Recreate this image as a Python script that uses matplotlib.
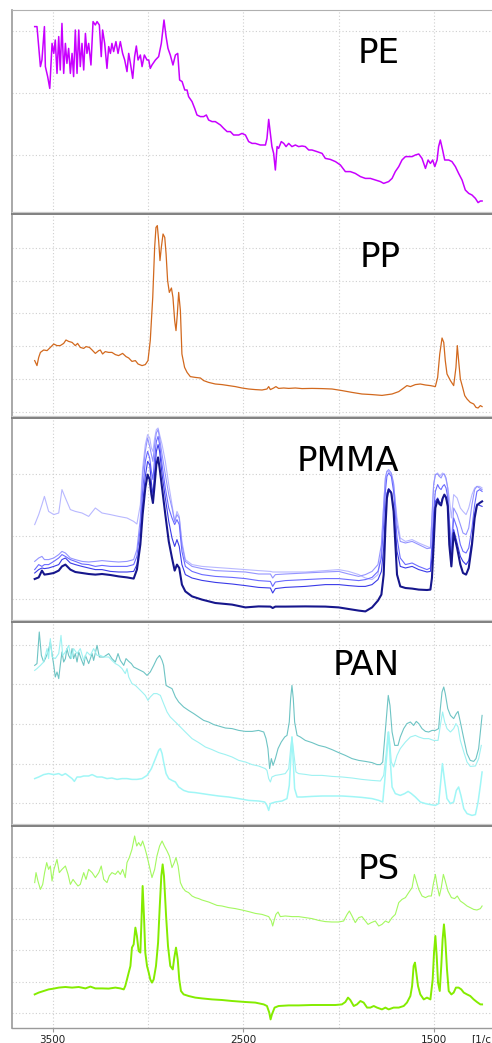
import matplotlib
matplotlib.use("Agg")
import matplotlib.pyplot as plt
from matplotlib.lines import Line2D

# ---------------- data (wavenumber [1/cm], absorbance a.u.) ----------------
pe_spec = [(3594,91.7),(3582,91.7),(3564,71.7),(3556,75),(3543,91.7),(3538,71.7),(3526,66.7),(3515,60.8),(3503,83.3),(3494,78.3),(3486,85),(3477,68.3),(3468,86.7),(3460,70),(3451,93.3),(3442,68.3),(3433,83.3),(3425,73.3),(3416,80.8),(3407,68.3),(3398,78.3),(3390,66.7),(3381,90),(3372,68.3),(3363,90),(3355,71.7),(3346,83.3),(3337,70),(3328,88.3),(3320,78.3),(3311,83.3),(3299,72.5),(3288,94.2),(3276,92.5),(3267,94.2),(3255,92.5),(3245,76.7),(3238,90),(3227,83.3),(3215,70.8),(3206,81.7),(3197,78.3),(3189,83.3),(3180,79.2),(3168,84.2),(3157,78.3),(3145,84.2),(3133,78.3),(3122,75),(3110,69.2),(3101,78.3),(3092,73.3),(3080,65.8),(3070,76.7),(3061,82),(3052,75),(3040,77.5),(3031,71.7),(3019,77.5),(3005,75),(2996,75),(2988,70.8),(2979,72.5),(2961,75),(2944,76.7),(2930,83.3),(2916,95),(2905,86.7),(2895,80.8),(2883,77.5),(2869,72.5),(2856,77.5),(2844,78.3),(2834,65),(2821,64.2),(2807,60),(2795,60),(2787,56.7),(2769,54.2),(2755,50.8),(2743,47.5),(2725,46.7),(2708,46.7),(2694,47.5),(2682,45),(2664,44.2),(2647,44.2),(2620,42.5),(2603,40.8),(2585,39.2),(2568,39.2),(2551,37.5),(2524,37.5),(2507,38.3),(2489,37.5),(2472,34.2),(2454,33.3),(2437,33.3),(2411,32.5),(2384,32.5),(2376,35.8),(2367,45.3),(2358,38.3),(2350,31.7),(2341,28.3),(2332,20),(2323,31.7),(2315,30.8),(2301,34.2),(2288,33.3),(2276,31.7),(2262,33.3),(2245,31.7),(2227,32.5),(2210,31.7),(2192,32),(2175,31.7),(2157,30),(2140,30),(2114,29.2),(2087,28.3),(2070,25.8),(2044,25.3),(2017,24.2),(1991,22.5),(1965,19.2),(1939,19.2),(1913,18.3),(1886,16.7),(1860,15.8),(1834,15.8),(1808,15),(1781,14.2),(1764,13.3),(1738,14.2),(1720,15.8),(1703,19.2),(1685,21.7),(1668,25),(1650,26.7),(1633,26.7),(1615,26.7),(1598,27.5),(1580,28),(1563,25.8),(1545,20.8),(1531,25),(1519,23.3),(1507,25),(1496,21.7),(1484,25),(1476,31.7),(1467,35),(1455,30),(1444,25),(1423,25),(1406,24.2),(1388,21.7),(1371,18.3),(1353,15),(1336,10),(1318,8.3),(1301,7.5),(1283,5.8),(1269,3.7),(1257,4.5),(1248,4.5)]

pp_spec = [(3594,26.7),(3582,24.2),(3573,28.3),(3564,30.8),(3547,32),(3529,31.7),(3512,33.3),(3494,35),(3477,34.2),(3460,34.2),(3442,35.3),(3430,37),(3416,36.3),(3398,35.8),(3381,34.2),(3369,35.3),(3355,33.3),(3337,32.8),(3325,33.7),(3307,33.3),(3293,32),(3276,30.3),(3258,31.7),(3250,32),(3238,30),(3224,31.2),(3206,30.8),(3189,30.8),(3171,29.7),(3154,29.2),(3133,30.3),(3115,28.7),(3101,28),(3084,26.3),(3066,26.7),(3052,25),(3031,24.2),(3014,24.7),(3000,26.7),(2988,36.7),(2975,58.3),(2965,83.3),(2958,93.3),(2951,94.2),(2944,86.7),(2937,76.7),(2930,83.3),(2921,90),(2912,88.3),(2905,80),(2897,66.7),(2888,60.8),(2877,63),(2869,58.3),(2860,46.7),(2853,41.7),(2846,50),(2839,60.8),(2830,51.7),(2822,30),(2808,23.3),(2795,20.8),(2778,18.7),(2752,18.3),(2725,18),(2708,16.7),(2682,15.8),(2647,15),(2612,14.7),(2577,14.2),(2542,13.7),(2507,13),(2472,12.5),(2437,12.2),(2402,12),(2376,12.5),(2367,13.7),(2358,12.2),(2341,13),(2329,13.7),(2315,12.8),(2288,13),(2262,12.8),(2227,13),(2192,12.7),(2140,12.8),(2087,12.7),(2035,12.5),(1982,11.7),(1930,10.8),(1878,10),(1825,9.7),(1773,9.3),(1720,10),(1685,11.2),(1659,13),(1642,14.2),(1624,13.7),(1598,14.7),(1572,15),(1545,14.5),(1519,14.2),(1493,13.7),(1481,18.3),(1470,30),(1458,38),(1449,35.8),(1441,26.7),(1432,20),(1414,16.7),(1397,14.2),(1385,23.3),(1378,34.2),(1371,26.7),(1362,17.5),(1350,13.3),(1339,9.2),(1327,7.5),(1310,5.8),(1292,5),(1280,3.3),(1269,3),(1257,4.2),(1248,3.7)]

pmma_wn = [3594,3573,3556,3543,3521,3494,3468,3451,3433,3407,
           3381,3346,3311,3276,3241,3197,3154,3110,3075,3058,
           3040,3028,3014,3002,2991,2982,2974,2965,2956,2947,
           2939,2926,2909,2891,2874,2860,2848,2836,2822,2804,
           2769,2717,2647,2559,2489,2420,2358,2346,2332,2280,
           2175,2070,2000,1948,1895,1860,1825,1794,1776,1764,
           1755,1747,1738,1724,1712,1694,1677,1650,1615,1580,
           1537,1519,1511,1502,1493,1481,1472,1463,1455,1446,
           1437,1428,1420,1409,1397,1379,1362,1348,1332,1318,
           1301,1287,1275,1261,1248]
pmma_1 = [19.5,20.3,23.7,21.7,22.0,22.5,23.7,25.8,26.7,24.2,
          23.0,22.5,22.0,21.7,22.0,21.5,20.8,20.3,19.7,24.2,
          36.7,51.7,65.0,71.7,69.2,61.7,57.5,66.7,76.7,80.3,
          75.0,65.0,51.7,38.3,30.0,23.7,26.7,25.0,16.7,13.3,
          10.8,9.2,7.5,6.7,5.3,5.8,5.7,5.0,5.7,5.7,
          5.8,5.7,5.3,4.5,3.7,3.3,5.3,8.7,11.7,21.7,
          45.0,60.0,64.2,62.5,53.3,21.7,15.8,15.0,14.7,14.2,
          14.0,14.2,20.0,36.7,55.0,59.2,57.0,56.3,59.7,61.7,
          60.3,55.8,36.7,25.8,42.5,35.0,26.7,22.5,21.7,25.0,
          36.7,50.0,56.3,57.5,58.3]
pmma_2 = [22.5,24.2,25.0,24.7,25.0,25.8,26.7,29.2,30.0,27.5,
          26.7,25.8,25.0,24.2,24.2,23.3,23.0,23.0,23.3,26.7,
          38.3,56.7,70.8,78.3,76.7,67.5,61.7,72.5,83.3,86.7,
          83.3,71.7,60.0,48.3,40.0,35.8,39.2,35.8,26.7,21.7,
          20.0,18.8,17.8,17.0,16.2,15.3,15.0,12.5,14.7,15.3,
          15.8,16.7,16.7,16.2,15.8,15.8,16.7,19.2,23.3,35.0,
          51.7,62.5,64.7,63.0,55.0,33.3,25.8,25.0,25.8,24.2,
          23.0,23.3,30.0,46.7,58.3,60.0,58.0,57.5,60.0,61.3,
          60.0,56.3,41.7,25.8,44.2,37.5,30.8,28.3,26.7,28.7,
          38.3,51.7,57.0,56.3,55.8]
pmma_3 = [24.2,26.7,25.8,26.7,26.7,28.3,30.0,31.7,30.8,29.2,
          28.3,27.0,26.7,25.8,26.3,25.8,25.8,25.8,26.7,30.8,
          45.0,63.3,78.3,83.3,80.0,73.3,69.2,80.0,88.3,90.8,
          86.7,76.7,65.0,55.0,50.0,46.7,49.2,46.7,33.3,25.8,
          23.3,21.7,20.8,20.3,19.7,18.7,18.3,15.8,18.0,18.7,
          19.2,19.7,19.7,19.2,18.7,19.2,20.3,23.3,30.0,46.7,
          63.3,70.8,72.5,70.8,63.3,40.0,30.0,26.7,27.5,25.8,
          24.2,25.0,36.7,53.3,63.3,66.7,65.0,64.2,65.8,66.7,
          65.0,60.0,46.7,31.7,50.0,45.0,36.7,33.3,32.5,35.0,
          45.0,56.7,63.3,64.2,63.3]
pmma_4 = [28.3,30.0,30.8,29.2,29.2,30.0,31.7,33.3,32.5,30.0,
          29.2,28.3,28.0,28.3,28.7,28.3,28.0,28.3,29.2,34.2,
          50.0,71.7,83.3,90.0,85.8,81.7,78.3,86.7,92.5,94.2,
          90.0,81.7,71.7,61.7,55.0,48.3,51.7,50.0,36.7,28.3,
          25.8,24.7,23.7,23.3,23.0,22.0,22.0,20.0,21.7,22.0,
          22.5,23.0,23.3,22.0,20.8,21.7,23.3,26.7,36.7,56.7,
          70.0,73.3,74.2,72.5,67.5,46.7,38.3,37.5,38.3,36.7,
          34.7,35.0,50.0,66.7,71.7,72.0,70.8,70.0,71.7,72.0,
          70.0,65.0,50.0,36.7,55.0,51.7,46.7,42.5,41.7,45.0,
          56.7,64.2,65.8,65.0,64.2]
pmma_5 = [46.7,51.7,56.7,60.8,53.3,51.7,52.5,64.2,60.0,54.2,
          53.3,52.5,50.8,55.0,52.5,51.7,50.8,50.0,48.3,47.0,
          56.7,75.0,86.7,91.7,90.0,85.0,83.3,90.0,94.2,95.0,
          91.7,86.7,78.3,66.7,56.7,48.3,53.3,50.8,38.3,29.2,
          26.7,25.8,25.3,24.7,24.2,23.7,23.3,23.0,23.0,23.0,
          23.0,23.7,24.2,23.3,21.7,20.0,19.2,21.7,33.3,56.7,
          70.0,73.3,73.3,71.7,66.7,50.0,40.0,38.3,39.2,37.5,
          35.8,35.0,50.0,66.7,71.7,72.5,70.8,71.7,72.5,71.7,
          69.2,65.0,60.0,50.0,61.7,60.0,55.0,53.3,51.7,55.0,
          61.7,65.0,65.8,65.8,65.0]

pan_a = [(3594,78.3),(3582,79.2),(3570,95),(3559,83.3),(3547,80),(3538,81.7),(3524,85),(3512,90),(3503,84.2),(3494,78.3),(3486,72.5),(3477,75),(3468,71.7),(3460,78.3),(3451,85),(3442,80),(3433,81.7),(3425,86.7),(3416,83.3),(3407,81.7),(3398,86.7),(3390,81.7),(3381,84.2),(3372,80),(3363,85),(3351,81.7),(3337,78.3),(3328,83.3),(3311,79.2),(3293,84.2),(3285,80.8),(3267,88.3),(3255,82.5),(3232,82.5),(3206,84.2),(3189,81.7),(3171,80),(3157,84.2),(3145,80.8),(3127,78.3),(3115,81.7),(3101,80.3),(3087,79.2),(3075,77.5),(3058,76.7),(3040,75.8),(3023,75),(3005,73.3),(2988,75),(2970,78.3),(2953,81.7),(2939,83.3),(2926,80.8),(2918,78.3),(2905,68.3),(2891,67.5),(2874,66.7),(2856,62.5),(2839,60),(2813,57.5),(2787,55.8),(2760,54.2),(2734,52.5),(2708,50.8),(2682,50),(2655,48.7),(2629,48),(2594,47),(2559,46.7),(2524,45.8),(2489,45.3),(2454,45.3),(2420,45.8),(2393,45),(2381,41.7),(2371,36.7),(2362,26.7),(2353,31.7),(2344,28.3),(2332,31.7),(2318,36.7),(2301,40),(2283,42.5),(2271,43.3),(2259,50),(2252,61.7),(2245,68.3),(2238,61.7),(2231,50),(2218,43.3),(2201,42.5),(2175,40.8),(2140,39.7),(2105,38.3),(2070,37.5),(2035,36.2),(2000,34.7),(1965,33.3),(1930,31.7),(1895,30.8),(1860,30.3),(1825,29.7),(1799,28.7),(1781,28.7),(1769,30),(1759,41.7),(1748,55),(1740,63.3),(1731,58.3),(1720,45),(1706,38.3),(1689,38.3),(1677,42.5),(1659,46.7),(1642,49.2),(1624,50),(1607,48.3),(1593,50.3),(1580,49.2),(1563,46.7),(1545,45.3),(1528,45),(1510,45.8),(1493,45.8),(1476,46.7),(1467,56.7),(1458,65),(1449,67.5),(1441,64.2),(1428,56.7),(1414,53.3),(1397,51.7),(1383,54.2),(1374,55.3),(1362,50),(1344,41.7),(1327,34.2),(1310,30.8),(1292,30.3),(1280,31.7),(1266,36.7),(1257,45),(1248,53.3)]

pan_b = [(3594,75.8),(3582,76.7),(3564,78.3),(3547,80),(3529,86.7),(3521,81.7),(3512,91.7),(3503,82.5),(3486,81.7),(3468,84.2),(3456,93.3),(3447,83.3),(3433,85),(3416,88.3),(3402,81.7),(3390,86.7),(3372,84.2),(3355,86.7),(3337,80.8),(3320,85),(3302,83.3),(3285,86.7),(3267,83.3),(3250,83.3),(3232,82.5),(3206,82.5),(3189,80.8),(3171,79.2),(3154,78.3),(3136,76.7),(3119,74.2),(3110,76.7),(3101,72.5),(3084,69.2),(3066,68.3),(3049,66.7),(3031,65),(3014,63.3),(3000,60.8),(2988,62.5),(2970,64.2),(2953,64.2),(2935,63.3),(2918,59.2),(2900,55),(2883,52.5),(2856,50),(2830,47.5),(2804,45),(2769,41.7),(2734,39.7),(2699,37.5),(2664,36.2),(2629,34.7),(2594,33.7),(2559,32.5),(2524,30.8),(2489,30),(2454,28.7),(2420,28),(2385,26.7),(2376,25.8),(2367,21.7),(2358,20),(2350,22.5),(2332,23.3),(2306,23.7),(2280,24.2),(2262,26.7),(2252,36.7),(2245,42.5),(2236,35),(2224,25),(2210,24.2),(2175,23.8),(2140,23.3),(2087,23.3),(2035,22.8),(1982,22.5),(1930,22),(1878,21.3),(1825,20.8),(1781,20.5),(1764,23.3),(1752,33.3),(1741,45),(1732,40),(1724,30),(1712,27.5),(1694,33.3),(1677,36.7),(1650,40),(1624,42.5),(1598,43.3),(1580,42.5),(1554,41.7),(1528,41.7),(1502,40.8),(1479,40.8),(1467,48.3),(1455,55),(1444,50),(1432,46.7),(1414,45),(1397,46.7),(1385,49.2),(1374,47.5),(1362,40.8),(1344,35),(1327,30),(1310,27.8),(1283,28),(1266,31.7),(1252,38.3)]

pan_c = [(3594,21.7),(3573,22.5),(3547,23.7),(3521,24.2),(3494,23.7),(3468,24.2),(3451,23.3),(3433,24.2),(3416,23),(3398,21.7),(3386,20.3),(3372,22.5),(3355,22.5),(3337,23),(3311,23),(3293,23.7),(3267,22.5),(3241,22.5),(3215,21.7),(3189,22),(3162,21.3),(3136,21.7),(3110,21.7),(3084,21.3),(3058,21.3),(3031,21.7),(3005,23.3),(2982,26.7),(2961,31.7),(2944,35.8),(2935,36.7),(2926,34.2),(2918,30),(2905,24.2),(2891,21.7),(2874,20.8),(2856,20),(2839,17.5),(2813,15.8),(2787,15),(2752,14.7),(2717,14.2),(2682,13.7),(2629,13),(2577,12.5),(2524,11.7),(2472,10.8),(2420,10.5),(2388,10),(2376,8.3),(2367,5.8),(2358,9.2),(2332,10),(2297,10.5),(2271,11.7),(2259,18.3),(2252,30),(2245,42.5),(2238,30),(2231,16.7),(2218,12.5),(2192,12.5),(2140,12.8),(2087,13),(2035,13),(1982,13),(1930,12.7),(1878,12.3),(1825,11.7),(1790,10.8),(1769,10),(1759,20),(1748,33.3),(1738,45),(1729,30),(1720,17.5),(1703,14.2),(1677,13.3),(1654,14.2),(1636,15.3),(1619,14.2),(1598,12.5),(1572,10),(1545,9.2),(1519,8.7),(1493,8.3),(1476,9.2),(1465,20),(1456,29.2),(1446,21.7),(1432,11.7),(1414,9.2),(1397,10),(1383,15.8),(1371,17.5),(1359,13.3),(1344,6.7),(1327,4.2),(1301,3.3),(1283,3.7),(1269,10),(1257,18.3),(1248,25)]

ps_upper = [(3594,71.7),(3587,76.7),(3577,72.5),(3564,68.3),(3552,70.8),(3542,76.7),(3531,81.7),(3521,78.3),(3512,80),(3503,72.5),(3493,78.3),(3477,83.3),(3465,76.7),(3451,78.3),(3433,80),(3419,75.8),(3407,70.8),(3393,73.3),(3381,71.7),(3367,70),(3355,70.8),(3337,76.7),(3325,73.3),(3311,78.3),(3293,76.7),(3276,74.2),(3258,76.7),(3245,80),(3232,73.3),(3215,71.7),(3203,75),(3189,76.7),(3171,75.8),(3157,77.5),(3145,75.8),(3133,78.3),(3119,74.2),(3110,81.7),(3098,84.2),(3084,88.3),(3070,95),(3059,90),(3049,91.7),(3038,90),(3028,92.5),(3017,89.2),(3005,85),(2993,80),(2979,74.2),(2965,78.3),(2953,85),(2939,90),(2926,92.5),(2914,90),(2900,87.5),(2888,85),(2874,79.2),(2862,81.7),(2853,84.2),(2842,80),(2830,71.7),(2818,69.2),(2804,67.5),(2787,66.7),(2769,65),(2752,64.2),(2734,63.7),(2717,63),(2699,62.5),(2682,62),(2664,61.3),(2638,60.3),(2612,60),(2577,59.2),(2542,58.7),(2507,58),(2472,57.2),(2437,56.3),(2402,55.8),(2367,54.7),(2353,52.5),(2346,50),(2337,53.3),(2329,55.8),(2318,57),(2306,54.7),(2280,55),(2245,54.7),(2210,54.7),(2175,54.2),(2140,53.7),(2105,52.8),(2070,52.2),(2035,52),(2000,52),(1974,52.5),(1956,55.8),(1944,57.5),(1930,55),(1913,51.7),(1895,54.2),(1878,54.7),(1860,52.5),(1846,50.8),(1829,51.7),(1808,52.5),(1790,50),(1773,50.8),(1755,52.5),(1738,51.7),(1720,54.2),(1703,55.8),(1685,61.7),(1668,63.3),(1650,64.2),(1633,66.7),(1615,69.2),(1603,75.8),(1593,72.5),(1580,68.3),(1563,65),(1545,64.2),(1528,65),(1514,65),(1504,70.8),(1493,75.8),(1483,70),(1472,65),(1462,69.2),(1451,75.8),(1441,72.5),(1427,67.5),(1409,64.2),(1392,63.7),(1378,65),(1362,62.5),(1344,61.3),(1327,60),(1310,59.2),(1292,58.3),(1275,58),(1257,58.7),(1248,60)]

ps_lower = [(3594,15.8),(3573,16.7),(3547,17.5),(3521,18.3),(3494,18.7),(3468,19.2),(3433,19.5),(3398,19.2),(3363,19.5),(3328,18.8),(3302,19.7),(3276,18.8),(3241,18.8),(3206,18.7),(3171,19.2),(3145,18.8),(3127,18.3),(3119,20),(3110,23.3),(3101,26.7),(3092,30),(3084,39.2),(3075,40.8),(3066,49.2),(3058,45),(3049,37.5),(3040,36.7),(3035,50),(3028,70),(3021,55),(3014,36.7),(3005,30),(2996,26.7),(2988,23.3),(2979,21.7),(2970,23.3),(2958,30),(2947,41.7),(2939,58.3),(2930,75),(2923,80.8),(2916,75),(2905,55),(2895,40),(2883,30),(2870,28.3),(2862,34.2),(2853,39.2),(2844,33.3),(2836,23.3),(2827,17.5),(2813,15.8),(2787,15),(2752,14.2),(2717,13.8),(2664,13.3),(2612,13),(2559,12.5),(2489,12),(2437,11.7),(2393,10.8),(2376,10),(2364,6.7),(2357,3.3),(2350,5.8),(2336,9.2),(2315,10),(2262,10.3),(2210,10.3),(2140,10.5),(2070,10.5),(2017,10.5),(1983,10.8),(1965,12),(1951,14.2),(1939,13),(1921,10),(1904,10.8),(1886,12.5),(1869,11.7),(1851,9.2),(1834,9.2),(1816,10),(1799,9.2),(1773,8.3),(1755,9.2),(1738,8.3),(1712,9.2),(1685,9.2),(1659,10),(1642,11.7),(1624,15),(1615,20),(1607,30),(1600,31.7),(1593,26.7),(1584,20),(1572,15.8),(1554,13.3),(1537,14.2),(1519,13.3),(1507,23.3),(1500,36.7),(1493,45),(1486,35),(1479,21.7),(1470,17.5),(1462,30),(1455,43.3),(1448,50.8),(1441,43.3),(1432,28.3),(1423,17.5),(1409,15.8),(1397,16.7),(1385,19.2),(1371,19.2),(1357,18.3),(1344,16.7),(1327,15.8),(1310,15),(1292,13.3),(1275,12),(1257,10.8),(1248,10.8)]

panel_names = ["PE", "PP", "PMMA", "PAN", "PS"]
x_tick_values = [3500, 2500, 1500]
x_tick_labels = ["3500", "2500", "1500"]
x_unit = "[1/cm]"

# ---------------- layout ----------------
W, H = 492, 1043
fig = plt.figure(figsize=(W / 100, H / 100), dpi=100)
fig.patch.set_facecolor("white")

panel_px = [(10, 213), (214, 417), (418, 621), (622, 825), (826, 1028)]
hgrid = [[89.7, 58.7, 27.5],
         [82.8, 66.7, 50.3, 33.8, 17.5, 0.8],
         [72.0, 40.8, 9.5],
         [88.7, 69.2, 49.2, 29.2, 9.7],
         [84.7, 69.2, 53.3, 37.8, 22.2, 6.3]]
label_pos = [(379, 63.3), (380, 267.3), (348, 471.3), (366, 675.3), (379, 879.3)]
left_px = 12

def unpack(pairs):
    return [p[0] for p in pairs], [p[1] for p in pairs]

axes = []
for i, (top, bot) in enumerate(panel_px):
    ax = fig.add_axes([left_px / W, 1 - bot / H, (W - left_px) / W, (bot - top) / H])
    ax.set_xlim(3713, 1196)
    ax.set_ylim(100 - (bot - top) / 2, 100)
    ax.set_xticks(x_tick_values)
    ax.set_xticks([3000, 2000], minor=True)
    ax.set_yticks(hgrid[i])
    ax.tick_params(axis="y", length=0, labelleft=False)
    ax.tick_params(axis="x", which="minor", length=0)
    ax.grid(True, which="both", color="#cfcfcf", linestyle=(0, (1, 2)), linewidth=0.8)
    ax.set_axisbelow(True)
    for s in ("right", "top", "bottom"):
        ax.spines[s].set_visible(False)
    ax.spines["left"].set_color("#9a9a9a")
    ax.spines["left"].set_linewidth(1.2)
    if i < 4:
        ax.tick_params(axis="x", which="major", length=0, labelbottom=False)
    else:
        ax.spines["bottom"].set_visible(True)
        ax.spines["bottom"].set_color("#9a9a9a")
        ax.spines["bottom"].set_linewidth(1.0)
        ax.set_xticklabels(x_tick_labels)
        ax.tick_params(axis="x", which="major", length=3, width=0.8, color="#9a9a9a",
                       labelsize=7.5, pad=2, labelcolor="#222222")
    if i == 0:
        ax.spines["top"].set_visible(True)
        ax.spines["top"].set_color("#b0b0b0")
        ax.spines["top"].set_linewidth(0.8)
    axes.append(ax)

# PE
x, y = unpack(pe_spec)
axes[0].plot(x, y, color="#c800ff", lw=1.1)
# PP
x, y = unpack(pp_spec)
axes[1].plot(x, y, color="#d2691e", lw=0.9)
# PMMA (light to dark)
for vals, col, lw in [(pmma_5, "#b8b8ff", 0.8), (pmma_4, "#9494ff", 0.8),
                      (pmma_3, "#6a6aff", 0.8), (pmma_2, "#3a3ae8", 0.8),
                      (pmma_1, "#16168c", 1.5)]:
    axes[2].plot(pmma_wn, vals, color=col, lw=lw)
# PAN
x, y = unpack(pan_a)
axes[3].plot(x, y, color="#6ec4c4", lw=0.8)
x, y = unpack(pan_b)
axes[3].plot(x, y, color="#9ef2f2", lw=0.8)
x, y = unpack(pan_c)
axes[3].plot(x, y, color="#a0f6f6", lw=1.1)
# PS
x, y = unpack(ps_upper)
axes[4].plot(x, y, color="#a4f860", lw=0.8)
x, y = unpack(ps_lower)
axes[4].plot(x, y, color="#84ec00", lw=1.4)

# panel names
for name, (px, py) in zip(panel_names, label_pos):
    fig.text(px / W, 1 - py / H, name, ha="center", va="baseline",
             fontsize=24.5, color="black", family="DejaVu Sans")

# separators between panels
for ysep in (213.5, 417.5, 621.5, 825.5):
    fig.add_artist(Line2D([left_px / W, 1], [1 - (ysep - 1.2) / H] * 2,
                          color="#c8c8c8", lw=0.9, transform=fig.transFigure))
    fig.add_artist(Line2D([left_px / W, 1], [1 - (ysep + 0.6) / H] * 2,
                          color="#808080", lw=1.4, transform=fig.transFigure))

# unit label
fig.text(471 / W, 1 - 1039 / H, x_unit, ha="left", va="center",
         fontsize=7.5, color="#222222")

fig.savefig("out.png", dpi=100, facecolor="white")
